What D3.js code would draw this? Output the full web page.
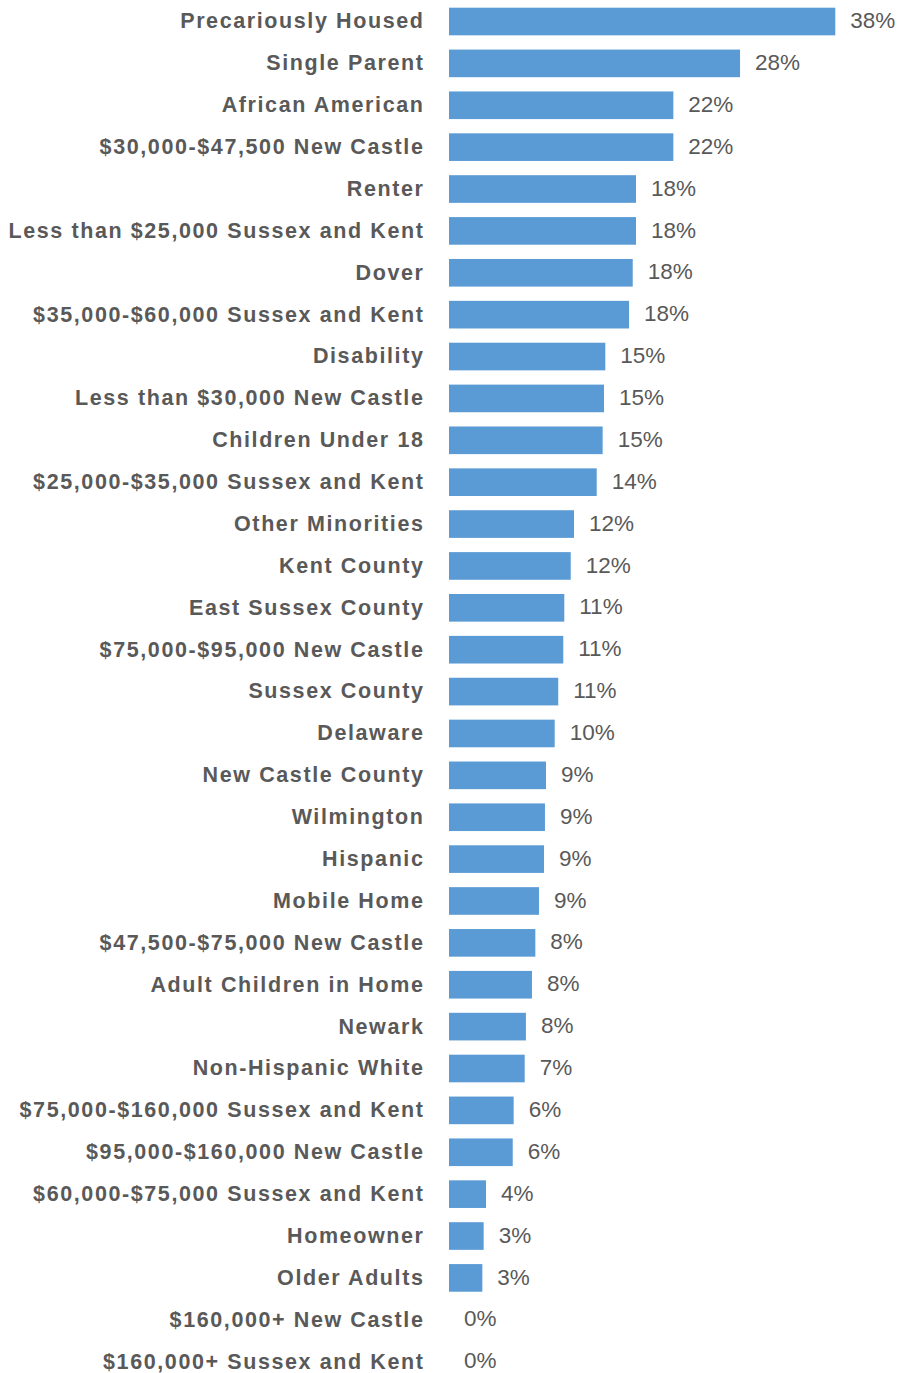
<!DOCTYPE html>
<html>
<head>
<meta charset="utf-8">
<script src="https://cdn.jsdelivr.net/npm/d3@7"></script>
<style>
  html, body { margin: 0; padding: 0; background: #ffffff; }
  svg { display: block; }
</style>
</head>
<body>
<svg id="chart" width="902" height="1373"></svg>
<script>
// Share of each group (percent), sorted from highest to lowest
const categories = [
  "Precariously Housed",
  "Single Parent",
  "African American",
  "$30,000-$47,500 New Castle",
  "Renter",
  "Less than $25,000 Sussex and Kent",
  "Dover",
  "$35,000-$60,000 Sussex and Kent",
  "Disability",
  "Less than $30,000 New Castle",
  "Children Under 18",
  "$25,000-$35,000 Sussex and Kent",
  "Other Minorities",
  "Kent County",
  "East Sussex County",
  "$75,000-$95,000 New Castle",
  "Sussex County",
  "Delaware",
  "New Castle County",
  "Wilmington",
  "Hispanic",
  "Mobile Home",
  "$47,500-$75,000 New Castle",
  "Adult Children in Home",
  "Newark",
  "Non-Hispanic White",
  "$75,000-$160,000 Sussex and Kent",
  "$95,000-$160,000 New Castle",
  "$60,000-$75,000 Sussex and Kent",
  "Homeowner",
  "Older Adults",
  "$160,000+ New Castle",
  "$160,000+ Sussex and Kent"
];

const values = [
  37.76, 28.45, 21.93, 21.93, 18.28, 18.28, 17.96, 17.60, 15.28, 15.15, 15.02,
  14.44, 12.22, 11.90, 11.27, 11.17, 10.68, 10.33, 9.48, 9.38, 9.29, 8.80,
  8.44, 8.11, 7.52, 7.40, 6.32, 6.23, 3.62, 3.39, 3.26, 0, 0
];

const xDomain = [0, 40];

const data = categories.map((c, i) => ({ category: c, value: values[i] }));

const svg = d3.select("#chart");
const fontFamily = "'Liberation Sans', Arial, Helvetica, sans-serif";
const barColor = "#5B9BD5";
const textColor = "#595959";

const x = d3.scaleLinear().domain(xDomain).range([449, 858.2]);

const y = d3.scaleBand()
  .domain(categories)
  .range([0.56, 1382.6])
  .paddingInner(0.34)
  .paddingOuter(0.17);

// Bars
svg.append("g")
  .selectAll("rect")
  .data(data)
  .join("rect")
  .attr("x", x(0))
  .attr("y", d => y(d.category))
  .attr("width", d => x(d.value) - x(0))
  .attr("height", y.bandwidth())
  .attr("fill", barColor);

// Category axis
const yAxis = svg.append("g")
  .attr("transform", `translate(${x(0)},0)`)
  .call(d3.axisLeft(y).tickSize(0).tickPadding(24.5));

yAxis.select(".domain").remove();
yAxis.selectAll("text")
  .attr("fill", textColor)
  .style("font-family", fontFamily)
  .style("font-size", "21.5px")
  .style("font-weight", "bold")
  .style("letter-spacing", "1.6px");

// Value labels
const fmt = d => d3.format(".0f")(d) + "%";
svg.append("g")
  .selectAll("text")
  .data(data)
  .join("text")
  .attr("x", d => x(d.value) + 15)
  .attr("y", d => y(d.category) + y.bandwidth() / 2)
  .attr("dy", 6.6)
  .attr("fill", textColor)
  .style("font-family", fontFamily)
  .style("font-size", "22.5px")
  .text(d => fmt(d.value));
</script>
</body>
</html>
